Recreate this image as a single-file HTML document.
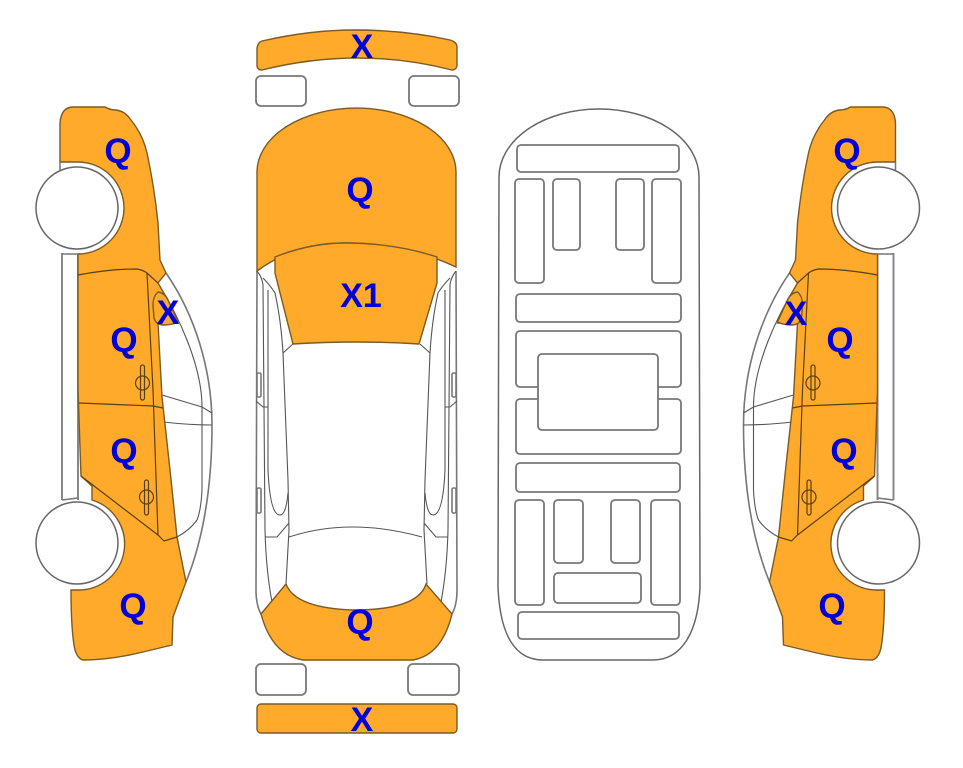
<!DOCTYPE html>
<html><head><meta charset="utf-8"><style>
html,body{margin:0;padding:0;background:#fff}
svg{display:block}
text{font-family:"Liberation Sans",Arial,sans-serif;font-weight:bold;font-size:35px;fill:#0000d8;text-anchor:middle}
text.x{font-size:34px}
.o{fill:#ffaa2b;stroke:#7a5a25;stroke-width:1.4}
.g{fill:none;stroke:#777;stroke-width:1.6}
.t{fill:none;stroke:#555;stroke-width:1.1}
.d{fill:none;stroke:#5a4015;stroke-width:1.2}
.w{fill:#fff;stroke:#666;stroke-width:1.5}
.r{fill:#fff;stroke:#777;stroke-width:1.8}
</style></head><body>
<svg width="963" height="768" viewBox="0 0 963 768" xmlns="http://www.w3.org/2000/svg">
<defs>
<g id="side">
  <path class="g" d="M166 273 C195 315 212 370 212 425 C212 480 205 535 186 582"/>
  <path class="t" d="M158 283 C178 315 202 365 202 407 L202 490 Q201 510 197 520 Q190 530 177 537 L164 541"/>
  <path class="t" d="M162 395 L202 407 L212 413 M163 422 Q190 425 212 425"/>
  <path d="M62 253 L62 500 M78 254 L78 500" stroke="#888" stroke-width="2" fill="none"/>
  <path class="o" d="M60 162 L60 123 Q61 108 72 107 L105 107 Q110 110 116 110 Q125 111 131 120 Q143 135 147 153 Q154 185 158 223 L160 260 L166 273 L158 283 L166 297 L178 323 L158 323 L162 397 L170 470 L177 537 L186 582 L173 617 L172 645 L143 652 Q110 660 83 660 Q76 658 74 645 Q71 625 71 590 L78 590 A46 46 0 0 0 92 500 L92 486 L81 476 L78 390 L78 254 A46 46 0 0 0 78 162 Z"/>
  <path d="M60 162 L60 170 M62 254 L78 254 M62 500 L78 498" stroke="#777" stroke-width="1.5" fill="none"/>
  <circle class="w" cx="77" cy="208" r="41"/>
  <circle class="w" cx="77" cy="543" r="41"/>
  <path class="d" d="M78 275 Q110 269 137 269 Q143 270 147 273 L158 283"/>
  <path class="d" d="M147 273 L153 390 L158 535"/>
  <path class="d" d="M79 403 L153 406 L163 408"/>
  <path class="d" d="M81 476 L158 535 L164 541 L177 537"/>
  <path class="o" d="M158 292 Q153 296 153 305 L154 318 Q156 325 164 325 Q172 325 178 322 L168 300 Q165 293 158 292Z" stroke-width="1"/>
  <rect class="d" x="140.500" y="365" width="4" height="35" rx="2"/>
  <circle class="d" cx="142.500" cy="383" r="7"/>
  <rect class="d" x="144.500" y="480" width="4" height="35" rx="2"/>
  <circle class="d" cx="146.500" cy="497" r="7"/>
</g>
<g id="half">
  <path class="g" d="M257 271 L256 590 Q256 605 261 614"/>
  <path class="t" d="M257 271 Q262 277 263 285 L265 530 Q266 570 272 602"/>
  <path class="t" d="M268 290 L268 470 Q270 515 280 515 Q286 515 288 493"/>
  <path class="t" d="M263 278 Q270 285 275 293 Q281 320 283 353 L288 480 L289 530 L286 584"/>
  <path class="t" d="M283 353 L293 344"/>
  <rect class="g" x="257" y="373" width="4" height="24" rx="1.500"/>
  <rect class="g" x="257" y="488" width="4" height="25" rx="1.500"/>
  <path class="t" d="M256 401 L263 407 L268 407 M265 537 L277 537 L289 523"/>
</g>
</defs>

<!-- top bumper -->
<path class="o" d="M257 48 Q258 42 262 41 Q310 30 355 30 Q405 30 450 40 Q457 42 457 47 L457 66 Q456 70 452 70 Q405 58 358 58 Q310 58 262 70 Q257 70 257 65 Z"/>
<rect class="r" x="256" y="76" width="50" height="30" rx="5"/>
<rect class="r" x="409" y="76" width="50" height="30" rx="5"/>

<!-- top view -->
<use href="#half"/>
<use href="#half" transform="translate(713 0) scale(-1 1)"/>
<path class="o" d="M257 271 L257 172 A99.500 64 0 0 1 456 172 L456 267 Q405 243 345 243 Q295 243 257 271 Z"/>
<path class="o" d="M275 257 Q310 243 345 243 Q395 243 437 257 L437 283 L419 344 Q355 340 293 344 L275 273 Z"/>
<path class="t" d="M289 537 Q350 517 422 537"/>
<path class="o" d="M261 614 L286 584 Q295 608 353 610 Q418 610 426 584 L452 614 Q442 655 413 660 L303 660 Q272 655 261 614 Z"/>
<rect class="r" x="256" y="664" width="50" height="31" rx="5"/>
<rect class="r" x="408" y="664" width="51" height="31" rx="5"/>
<rect class="o" x="257" y="704" width="200" height="29" rx="4"/>

<!-- plan view -->
<path class="w" d="M499 177 A100 68 0 0 1 699 177 L700 587 C698 635 680 660 653 660 L543 660 C515 660 500 635 498 587 Z"/>
<g class="r">
<rect x="517" y="145" width="162" height="27" rx="4"/>
<rect x="515" y="179" width="29" height="104" rx="4"/>
<rect x="553" y="179" width="27" height="71" rx="4"/>
<rect x="616" y="179" width="28" height="71" rx="4"/>
<rect x="652" y="179" width="29" height="104" rx="4"/>
<rect x="516" y="294" width="165" height="28" rx="4"/>
<rect x="516" y="331" width="165" height="56" rx="4"/>
<rect x="516" y="399" width="165" height="55" rx="4"/>
<rect x="538" y="354" width="120" height="76" rx="4"/>
<rect x="516" y="463" width="164" height="29" rx="4"/>
<rect x="515" y="500" width="29" height="105" rx="4"/>
<rect x="554" y="500" width="29" height="63" rx="4"/>
<rect x="611" y="500" width="29" height="63" rx="4"/>
<rect x="651" y="500" width="29" height="105" rx="4"/>
<rect x="554" y="573" width="87" height="30" rx="4"/>
<rect x="518" y="612" width="161" height="27" rx="4"/>
</g>

<!-- side views -->
<use href="#side"/>
<use href="#side" transform="translate(955.5 0) scale(-1 1)"/>

<!-- labels -->
<text x="118" y="163">Q</text>
<text x="124" y="352">Q</text>
<text x="124" y="463">Q</text>
<text x="133" y="618">Q</text>
<text class="x" x="168" y="324">X</text>
<text x="360" y="202">Q</text>
<text class="x" x="361" y="307">X1</text>
<text x="360" y="634">Q</text>
<text class="x" x="362" y="58">X</text>
<text class="x" x="362" y="731">X</text>
<text x="847" y="163">Q</text>
<text x="840" y="352">Q</text>
<text x="844" y="463">Q</text>
<text x="832" y="618">Q</text>
<text class="x" x="796" y="325">X</text>
</svg>
</body></html>
